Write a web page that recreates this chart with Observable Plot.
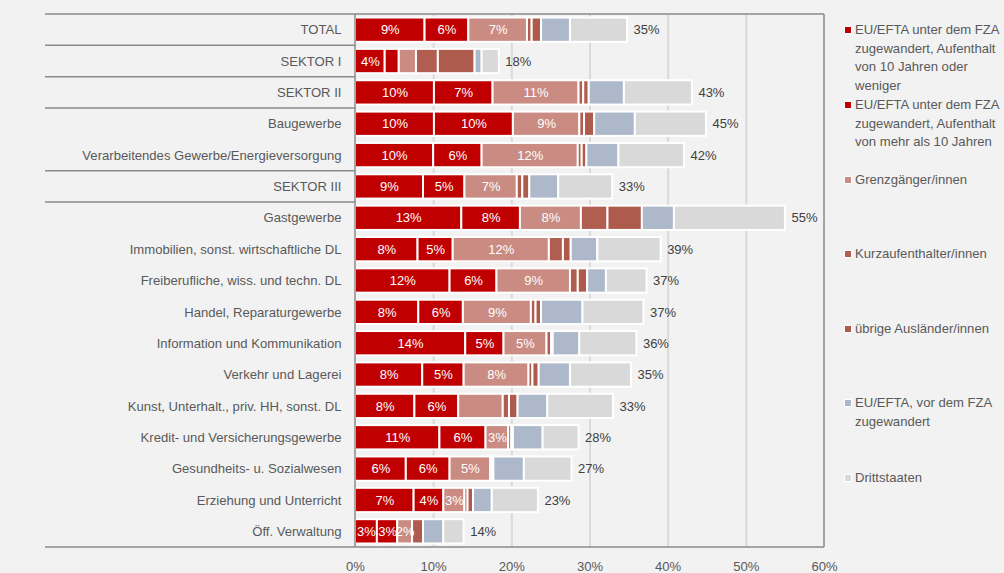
<!DOCTYPE html>
<html><head><meta charset="utf-8">
<script src="https://cdn.jsdelivr.net/npm/d3@7"></script>
<script src="https://cdn.jsdelivr.net/npm/@observablehq/plot@0.6"></script>
<style>
html,body{margin:0;padding:0;background:#f2f2f2;}
#wrap{position:relative;width:1004px;height:573px;overflow:hidden;font-family:"Liberation Sans",Arial,sans-serif;}
.li{position:absolute;left:844px;font-size:13.1px;line-height:18.5px;color:#595959;}
.sw{position:absolute;left:0;top:5px;width:6px;height:6px;border:1px solid #fff;}
.lt{position:absolute;left:11px;top:0;white-space:nowrap;}
</style></head>
<body>
<div id="wrap"><div id="chart"></div><div id="legend"></div></div>
<script>
const categories = ["TOTAL","SEKTOR I","SEKTOR II","Baugewerbe","Verarbeitendes Gewerbe/Energieversorgung","SEKTOR III","Gastgewerbe","Immobilien, sonst. wirtschaftliche DL","Freiberufliche, wiss. und techn. DL","Handel, Reparaturgewerbe","Information und Kommunikation","Verkehr und Lagerei","Kunst, Unterhalt., priv. HH, sonst. DL","Kredit- und Versicherungsgewerbe","Gesundheits- u. Sozialwesen","Erziehung und Unterricht","Öff. Verwaltung"];

const seriesNames = [
  "EU/EFTA unter dem FZA\nzugewandert, Aufenthalt\nvon 10 Jahren oder\nweniger",
  "EU/EFTA unter dem FZA\nzugewandert, Aufenthalt\nvon mehr als 10 Jahren",
  "Grenzgänger/innen",
  "Kurzaufenthalter/innen",
  "übrige Ausländer/innen",
  "EU/EFTA, vor dem FZA\nzugewandert",
  "Drittstaaten"
];
const seriesColors = ["#c00000","#c00000","#c98b82","#b15d4f","#ae5b4e","#adb9ca","#d9d9d9"];

const euBis10   = [8.9, 3.8, 10.1, 10.1, 10.0, 8.7, 13.6, 8.0, 12.1, 8.1, 14.1, 8.6, 7.6, 10.8, 6.5, 7.5, 2.8];
const euUeber10 = [5.6, 1.8, 7.5, 10.1, 6.2, 5.3, 7.5, 4.5, 6.0, 5.7, 4.9, 5.3, 5.6, 5.9, 5.6, 3.8, 2.6];
const grenz     = [7.5, 2.2, 11.0, 8.5, 12.3, 6.7, 7.8, 12.3, 9.4, 8.7, 5.5, 8.3, 5.7, 2.9, 5.2, 2.7, 1.9];
const kurz      = [0.6, 2.8, 0.6, 0.6, 0.5, 0.7, 3.4, 1.8, 1.0, 0.6, 0.6, 0.5, 0.8, 0.4, 0.2, 0.4, 0.0];
const uebrige   = [1.2, 4.7, 0.7, 1.3, 0.6, 0.9, 4.4, 1.0, 1.2, 0.7, 0.2, 0.8, 1.1, 0.2, 0.2, 0.7, 1.4];
const euVor     = [3.7, 0.9, 4.5, 5.2, 4.1, 3.7, 4.1, 3.4, 2.4, 5.3, 3.4, 4.0, 3.8, 3.8, 3.9, 2.4, 2.6];
const dritt     = [7.3, 2.2, 8.7, 9.1, 8.4, 6.9, 14.2, 8.1, 5.2, 7.8, 7.3, 7.8, 8.4, 4.6, 6.1, 5.9, 2.6];

const labelsBis10   = ["9%","4%","10%","10%","10%","9%","13%","8%","12%","8%","14%","8%","8%","11%","6%","7%","3%"];
const labelsUeber10 = ["6%","","7%","10%","6%","5%","8%","5%","6%","6%","5%","5%","6%","6%","6%","4%","3%"];
const labelsGrenz   = ["7%","","11%","9%","12%","7%","8%","12%","9%","9%","5%","8%","","3%","5%","3%","2%"];
const totalLabels   = ["35%","18%","43%","45%","42%","33%","55%","39%","37%","37%","36%","35%","33%","28%","27%","23%","14%"];

const groupBreaksAfter = ["TOTAL","SEKTOR I","SEKTOR II","Verarbeitendes Gewerbe/Energieversorgung","SEKTOR III"];
const xTicks = [0,10,20,30,40,50,60];
const gridTicks = [10,20,30,40,50];

const seriesValues = [euBis10, euUeber10, grenz, kurz, uebrige, euVor, dritt];
const seriesLabels = [labelsBis10, labelsUeber10, labelsGrenz, null, null, null, null];

const rows = [];
categories.forEach((cat, i) => {
  seriesValues.forEach((vals, s) => {
    if (vals[i] > 0) rows.push({cat, series: seriesNames[s], value: vals[i], label: seriesLabels[s] ? seriesLabels[s][i] : ""});
  });
});
const totals = categories.map((cat, i) => ({cat, total: d3.sum(seriesValues, v => v[i]), label: totalLabels[i]}));

const chart = Plot.plot({
  width: 1004,
  height: 573,
  marginLeft: 355,
  marginRight: 180,
  marginTop: 14,
  marginBottom: 26,
  style: {background: "transparent", fontFamily: "Liberation Sans, Arial, sans-serif", fontSize: "13.1px", color: "#595959"},
  x: {domain: [0, 60], ticks: xTicks, tickFormat: d => d + "%", tickSize: 0, tickPadding: 14, label: null},
  y: {domain: categories, paddingInner: 0.225, paddingOuter: 0.1125, round: false, tickSize: 0, tickPadding: 14, label: null},
  color: {domain: seriesNames, range: seriesColors},
  marks: [
    Plot.ruleX(gridTicks, {stroke: "#d9d9d9", strokeWidth: 2, strokeOpacity: 1}),
    Plot.barX(rows, Plot.stackX({x: "value", y: "cat", fill: "series", stroke: "white", strokeWidth: 2})),
    Plot.text(rows, Plot.stackX({x: "value", y: "cat", text: "label", fill: "white", fontSize: 13})),
    Plot.text(totals, {x: "total", y: "cat", text: "label", dx: 6, textAnchor: "start", fill: "#404040", fontSize: 13})
  ]
});
document.getElementById("chart").appendChild(chart);

// frame and category group separators (extending into the left label area)
const ys = chart.scale("y");
const xs = chart.scale("x");
const xLeft = 45;
const xAxis = xs.apply(0);
const xRight = xs.apply(60);
const yTop = ys.range[0], yBottom = ys.range[1];
const sepYs = groupBreaksAfter.map(c => ys.apply(c) + ys.bandwidth + (ys.step - ys.bandwidth) / 2);
const g = d3.select(chart).append("g").attr("stroke", "#8a8a8a").attr("stroke-width", 1.5).attr("fill", "none");
[yTop, yBottom].forEach(y => g.append("line").attr("x1", xLeft).attr("x2", xRight).attr("y1", y).attr("y2", y));
sepYs.forEach(y => g.append("line").attr("x1", xLeft).attr("x2", xAxis).attr("y1", y).attr("y2", y));
[xAxis, xRight].forEach(x => g.append("line").attr("x1", x).attr("x2", x).attr("y1", yTop).attr("y2", yBottom));

// legend
const legend = d3.select("#legend");
const legendTop = 30.7, legendStep = 74.6, lineH = 18.5;
seriesNames.forEach((name, i) => {
  const item = legend.append("div").attr("class", "li").style("top", (legendTop + i * legendStep - lineH / 2) + "px");
  item.append("div").attr("class", "sw").style("background", seriesColors[i]);
  item.append("div").attr("class", "lt").html(name.split("\n").join("<br>"));
});
</script>
</body></html>
